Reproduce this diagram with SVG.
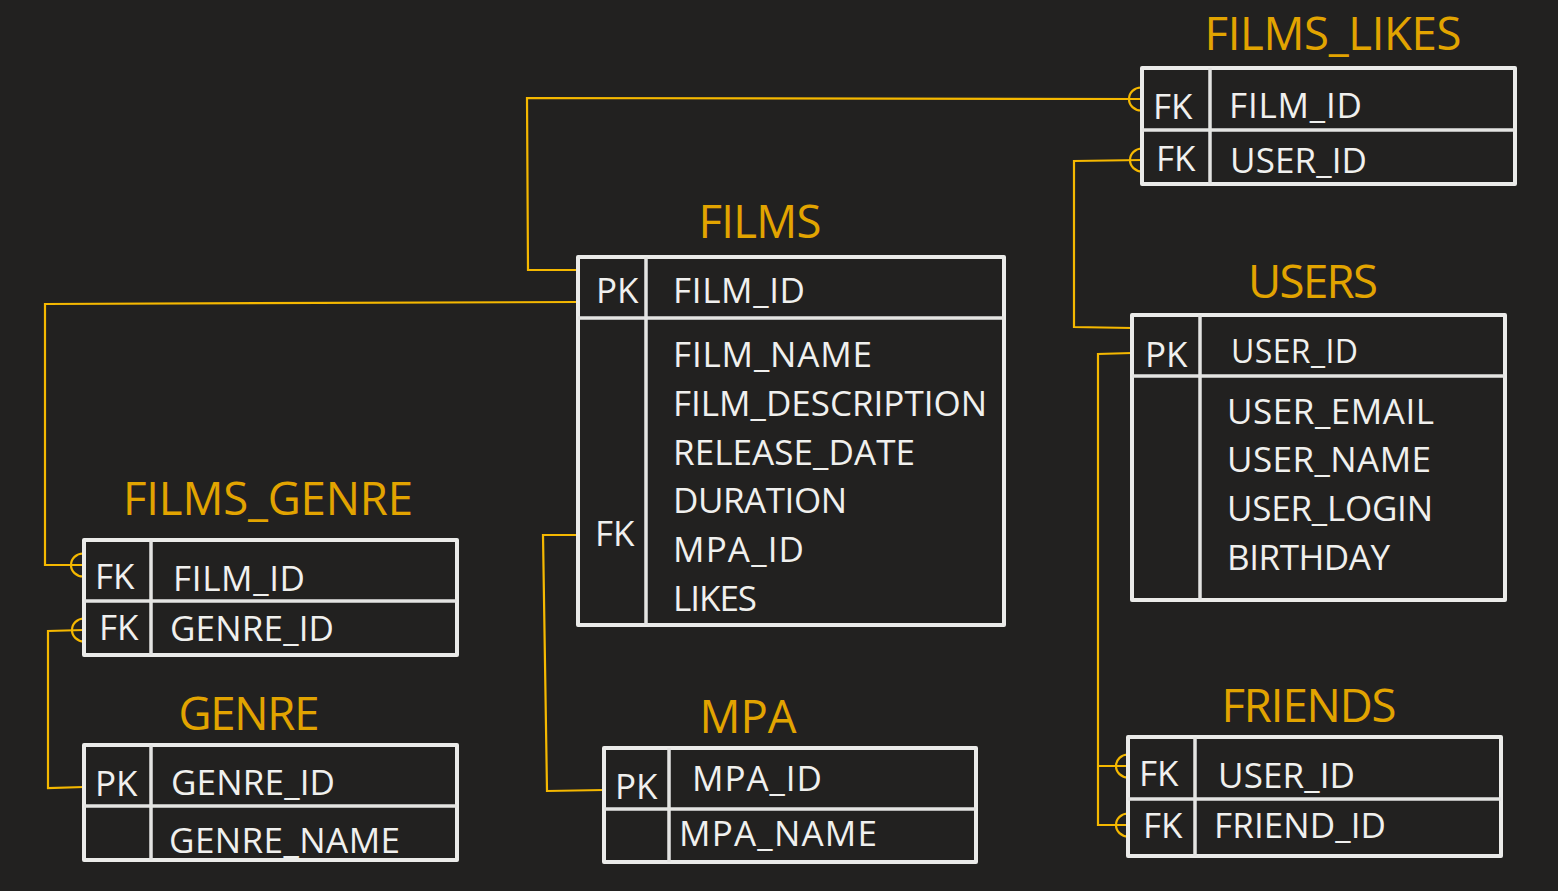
<svg xmlns="http://www.w3.org/2000/svg" width="1558" height="891" viewBox="0 0 1558 891">
<style>
.tbl{fill:none;stroke:#ebebe9;stroke-width:4;stroke-linejoin:round}
.div{fill:none;stroke:#e4e4e2;stroke-width:3.5}
.t{font-family:"Open Sans","Noto Sans",sans-serif;font-size:35px;fill:#f0f0ee}
.h{font-family:"Open Sans","Noto Sans",sans-serif;font-size:45.5px;fill:#e2a400;text-anchor:middle}
.c{fill:none;stroke:#f5b800;stroke-width:2.2;stroke-linejoin:miter}
</style>
<defs>
<path id="crow" d="M0,-11.5 A12,11.5 0 0 0 0,11.5" class="c"/>
</defs>
<rect width="1558" height="891" fill="#222120"/>

<g id="connectors">
<path class="c" d="M578,270 L528,270 L527,98 L1142,99"/>
<use href="#crow" x="1141" y="99"/>
<path class="c" d="M578,302 L45,304 L45,565 L84,565"/>
<use href="#crow" x="83" y="565"/>
<path class="c" d="M1142,160 L1074,161 L1074,327 L1132,328"/>
<use href="#crow" x="1142" y="160"/>
<path class="c" d="M1132,353 L1098,354 L1098,825 L1128,825 M1098,766 L1128,766"/>
<use href="#crow" x="1128" y="766"/>
<use href="#crow" x="1128" y="825"/>
<path class="c" d="M84,787 L48,788 L48,631 L84,630"/>
<use href="#crow" x="84" y="630"/>
<path class="c" d="M578,535 L543,535 L547,791 L604,790"/>
</g>

<g id="films_likes">
<text class="h" x="1333" y="50" textLength="257">FILMS_LIKES</text>
<rect class="tbl" x="1142" y="68" width="373" height="116"/>
<path class="div" d="M1142,130 L1515,130 M1210,68 L1210,184"/>
<text class="t" x="1153" y="119">FK</text>
<text class="t" x="1229" y="118" textLength="133">FILM_ID</text>
<text class="t" x="1156" y="171">FK</text>
<text class="t" x="1230" y="173" textLength="137">USER_ID</text>
</g>

<g id="films">
<text class="h" x="760" y="238" textLength="123">FILMS</text>
<rect class="tbl" x="578" y="257" width="426" height="368"/>
<path class="div" d="M578,318 L1004,318 M646,257 L646,625"/>
<text class="t" x="596" y="303">PK</text>
<text class="t" x="673" y="303" textLength="132">FILM_ID</text>
<text class="t" x="673" y="367" textLength="199">FILM_NAME</text>
<text class="t" x="673" y="416" textLength="314">FILM_DESCRIPTION</text>
<text class="t" x="673" y="465" textLength="242">RELEASE_DATE</text>
<text class="t" x="673" y="513" textLength="174">DURATION</text>
<text class="t" x="673" y="562" textLength="131">MPA_ID</text>
<text class="t" x="673" y="611" textLength="84">LIKES</text>
<text class="t" x="595" y="546">FK</text>
</g>

<g id="users">
<text class="h" x="1313" y="298" textLength="130">USERS</text>
<rect class="tbl" x="1132" y="315" width="373" height="285"/>
<path class="div" d="M1132,376 L1505,376 M1200,315 L1200,600"/>
<text class="t" x="1145" y="367">PK</text>
<text class="t" x="1231" y="363" style="font-size:32px" textLength="127">USER_ID</text>
<text class="t" x="1227" y="424" textLength="207">USER_EMAIL</text>
<text class="t" x="1227" y="472" textLength="204">USER_NAME</text>
<text class="t" x="1227" y="521" textLength="206">USER_LOGIN</text>
<text class="t" x="1227" y="570" textLength="163">BIRTHDAY</text>
</g>

<g id="films_genre">
<text class="h" x="268" y="515" textLength="290">FILMS_GENRE</text>
<rect class="tbl" x="84" y="540" width="373" height="115"/>
<path class="div" d="M84,601 L457,601 M151,540 L151,655"/>
<text class="t" x="95" y="589">FK</text>
<text class="t" x="173" y="591" textLength="132">FILM_ID</text>
<text class="t" x="99" y="640">FK</text>
<text class="t" x="170" y="641" textLength="164">GENRE_ID</text>
</g>

<g id="genre">
<text class="h" x="249" y="730" textLength="141">GENRE</text>
<rect class="tbl" x="84" y="745" width="373" height="115"/>
<path class="div" d="M84,806 L457,806 M151,745 L151,860"/>
<text class="t" x="95" y="796">PK</text>
<text class="t" x="171" y="795" textLength="164">GENRE_ID</text>
<text class="t" x="169" y="853" textLength="231">GENRE_NAME</text>
</g>

<g id="mpa">
<text class="h" x="748" y="733" textLength="97">MPA</text>
<rect class="tbl" x="604" y="748" width="372" height="114"/>
<path class="div" d="M604,809 L976,809 M669,748 L669,862"/>
<text class="t" x="615" y="799">PK</text>
<text class="t" x="692" y="791" textLength="130">MPA_ID</text>
<text class="t" x="679" y="846" textLength="198">MPA_NAME</text>
</g>

<g id="friends">
<text class="h" x="1309" y="722" textLength="175">FRIENDS</text>
<rect class="tbl" x="1128" y="737" width="373" height="119"/>
<path class="div" d="M1128,799 L1501,799 M1195,737 L1195,856"/>
<text class="t" x="1139" y="786">FK</text>
<text class="t" x="1218" y="788" textLength="137">USER_ID</text>
<text class="t" x="1143" y="838">FK</text>
<text class="t" x="1214" y="838" textLength="172">FRIEND_ID</text>
</g>
</svg>
